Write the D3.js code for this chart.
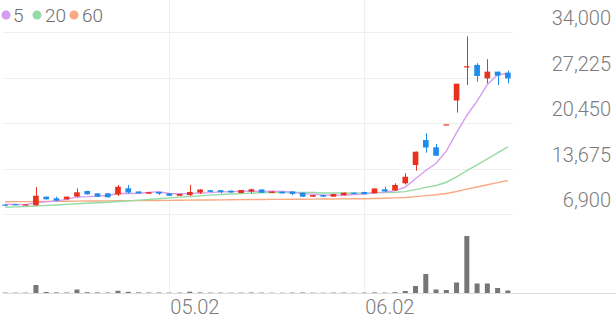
<!DOCTYPE html>
<html lang="ko">
<head>
<meta charset="utf-8">
<title>Candle chart</title>
<script src="https://cdn.jsdelivr.net/npm/d3@7"></script>
<style>
  body { margin: 0; background: #fff; }
  svg { display: block; font-family: Roboto, sans-serif; }
  .grid line { stroke: #efefef; shape-rendering: crispEdges; }
  .ylab, .xlab { fill: #7c7c7c; font-size: 20px; font-weight: 300; }
  .legend text { fill: #6e6e6e; font-size: 19px; font-weight: 300; }
</style>
</head>
<body>
<script>
var w = 616, h = 321;

// daily OHLC (won), oldest first
var opens  = [8300, 8380, 8250, 8200, 9480, 9240, 9090, 9500, 10330, 9980,
              9980, 9800, 10730, 10250, 9920, 10180, 9980, 9610, 9730, 10100,
              10440, 10440, 10370, 10030, 10220, 10550, 10030, 10220, 10250, 10070,
              9480, 9730, 9480, 9680, 10070, 10180, 9980, 10580, 10400, 11470,
              14200, 17920, 16830, 20250, 23800, 28800, 29100, 27100, 28100, 27950];
var highs  = [8330, 8400, 8350, 10880, 9500, 9480, 9500, 10720, 10350, 10000,
              10000, 11220, 11220, 10270, 10170, 10200, 10000, 9900, 11220, 10580,
              10460, 10460, 10400, 10490, 10670, 10580, 10270, 10250, 10270, 10100,
              9750, 9750, 9900, 10100, 10100, 10200, 10730, 10960, 11470, 12960,
              16200, 18920, 17320, 20250, 26300, 33350, 29350, 29950, 28100, 28250];
var lows   = [8180, 8280, 8230, 8150, 9050, 8850, 9050, 9380, 9800, 9450,
              9350, 9580, 9930, 9950, 9900, 9730, 9580, 9580, 9580, 9880,
              10150, 9980, 10080, 10000, 9980, 10050, 10000, 9960, 9700, 9450,
              9450, 9450, 9450, 9650, 9850, 9850, 9950, 10220, 10370, 11290,
              13350, 16030, 15550, 20250, 22000, 26100, 26600, 26350, 26100, 26350];
var closes = [8200, 8300, 8330, 9620, 9090, 8880, 9480, 10130, 9830, 9480,
              9390, 10960, 10100, 9980, 10150, 9920, 9610, 9880, 10180, 10550,
              10200, 10150, 10100, 10470, 10580, 10070, 10250, 9980, 9880, 9480,
              9730, 9480, 9880, 10070, 9880, 9880, 10700, 10250, 11220, 12450,
              16180, 16800, 15580, 20250, 26300, 28900, 27450, 28100, 27500, 27100];

// volume (shares)
var volumes = [40000, 30000, 40000, 800000, 100000, 60000, 50000, 350000, 80000, 60000,
               50000, 220000, 120000, 60000, 50000, 50000, 40000, 40000, 130000, 60000,
               40000, 40000, 30000, 40000, 50000, 40000, 30000, 30000, 40000, 50000,
               30000, 30000, 40000, 40000, 30000, 40000, 60000, 40000, 80000, 200000,
               700000, 1900000, 350000, 300000, 1050000, 5700000, 950000, 950000, 500000, 250000];

// moving averages
var ma5  = [8330, 8310, 8290, 8550, 8708, 8844, 9080, 9440, 9482, 9560,
            9662, 9958, 9952, 9982, 10116, 10222, 9952, 9908, 9948, 10028,
            10084, 10192, 10236, 10294, 10300, 10274, 10294, 10270, 10152, 9932,
            9864, 9710, 9690, 9728, 9808, 9838, 10082, 10156, 10386, 10900,
            12160, 13380, 14446, 16252, 19022, 21566, 23696, 26200, 27650, 27810];
var ma20 = [7900, 7960, 8020, 8100, 8180, 8250, 8330, 8420, 8500, 8580,
            8660, 8760, 8860, 8960, 9060, 9180, 9300, 9420, 9510, 9603,
            9703, 9796, 9884, 9927, 10001, 10061, 10099, 10092, 10094, 10094,
            10111, 10037, 10026, 10031, 10017, 10015, 10070, 10088, 10140, 10235,
            10534, 10867, 11141, 11630, 12416, 13357, 14217, 15123, 16004, 16885];
var ma60 = [8730, 8740, 8750, 8770, 8780, 8790, 8800, 8815, 8825, 8835,
            8850, 8865, 8880, 8895, 8905, 8920, 8930, 8945, 8960, 8975,
            8990, 9005, 9020, 9035, 9050, 9060, 9075, 9085, 9095, 9105,
            9115, 9125, 9135, 9145, 9160, 9173, 9213, 9245, 9294, 9363,
            9494, 9635, 9756, 9955, 10255, 10598, 10917, 11247, 11567, 11880];

var maNames  = ["5", "20", "60"];
var maColors = ["#d59cf0", "#95dba5", "#f8aa84"];

var yTicks = [34000, 27225, 20450, 13675, 6900];
var xTickIdx = [16, 35];
var xTickLabels = ["05.02", "06.02"];

var upColor = "#e8321e", downColor = "#1f8ceb";

var idx = closes.map(function (d, i) { return i; });

var x = d3.scaleBand()
  .domain(idx)
  .range([0, 513])
  .paddingInner(0.45)
  .paddingOuter(0.225);

var y = d3.scaleLinear()
  .domain([6900, 34000])
  .range([214, 32]);

var yv = d3.scaleLinear()
  .domain([0, d3.max(volumes)])
  .range([293, 236]);

function cx(i) { return x(i) + x.bandwidth() / 2; }

var svg = d3.select("body").append("svg")
  .attr("width", w)
  .attr("height", h);

// grid
var grid = svg.append("g").attr("class", "grid");
grid.selectAll(".hl").data(yTicks).enter().append("line")
  .attr("x1", 3).attr("x2", 513)
  .attr("y1", function (d) { return Math.round(y(d)) + 0.5; })
  .attr("y2", function (d) { return Math.round(y(d)) + 0.5; });
grid.selectAll(".vl").data(xTickIdx).enter().append("line")
  .attr("x1", function (d) { return Math.round(cx(d)) + 0.5; })
  .attr("x2", function (d) { return Math.round(cx(d)) + 0.5; })
  .attr("y1", 0).attr("y2", 293);

// volume baseline
svg.append("line")
  .attr("x1", 3).attr("x2", w)
  .attr("y1", 293.5).attr("y2", 293.5)
  .attr("stroke", "#dcdcdc");

// y labels
svg.selectAll(".ylab").data(yTicks).enter().append("text")
  .attr("class", "ylab")
  .attr("x", 611)
  .attr("y", function (d) { return y(d) - 7; })
  .attr("text-anchor", "end")
  .text(function (d) { return d3.format(",")(d); });

// x labels
svg.selectAll(".xlab").data(xTickIdx).enter().append("text")
  .attr("class", "xlab")
  .attr("x", function (d) { return cx(d) + 1; })
  .attr("y", 314)
  .text(function (d, i) { return xTickLabels[i]; });

// moving average lines
var line = d3.line()
  .x(function (d, i) { return cx(i); })
  .y(function (d) { return y(d); });

[ma60, ma20, ma5].forEach(function (s, k) {
  svg.append("path")
    .datum(s)
    .attr("fill", "none")
    .attr("stroke", maColors[2 - k])
    .attr("stroke-width", 1.4)
    .attr("d", line);
});

// candles
var candles = svg.append("g").selectAll("g").data(idx).enter().append("g");

candles.append("line")
  .attr("x1", function (i) { return Math.round(cx(i)) + 0.5; })
  .attr("x2", function (i) { return Math.round(cx(i)) + 0.5; })
  .attr("y1", function (i) { return y(highs[i]); })
  .attr("y2", function (i) { return y(lows[i]); })
  .attr("stroke", function (i) { return closes[i] >= opens[i] ? upColor : downColor; })
  .attr("stroke-width", 1);

candles.append("rect")
  .attr("x", function (i) { return x(i); })
  .attr("width", x.bandwidth())
  .attr("y", function (i) { return y(Math.max(opens[i], closes[i])); })
  .attr("height", function (i) { return Math.max(1.2, Math.abs(y(opens[i]) - y(closes[i]))); })
  .attr("fill", function (i) { return closes[i] >= opens[i] ? upColor : downColor; });

// volume bars
svg.append("g").selectAll("rect").data(volumes).enter().append("rect")
  .attr("x", function (d, i) { return cx(i) - 2.5; })
  .attr("width", 5)
  .attr("y", function (d) { return yv(d); })
  .attr("height", function (d) { return 293 - yv(d); })
  .attr("fill", "#767676");

// legend
var legend = svg.append("g").attr("class", "legend");
var legDot = [6, 37, 74];
var legText = [13, 45, 82];
maNames.forEach(function (n, k) {
  legend.append("circle")
    .attr("cx", legDot[k]).attr("cy", 15).attr("r", 4.5)
    .attr("fill", maColors[k]);
  legend.append("text")
    .attr("x", legText[k]).attr("y", 22)
    .text(n);
});
</script>
</body>
</html>
